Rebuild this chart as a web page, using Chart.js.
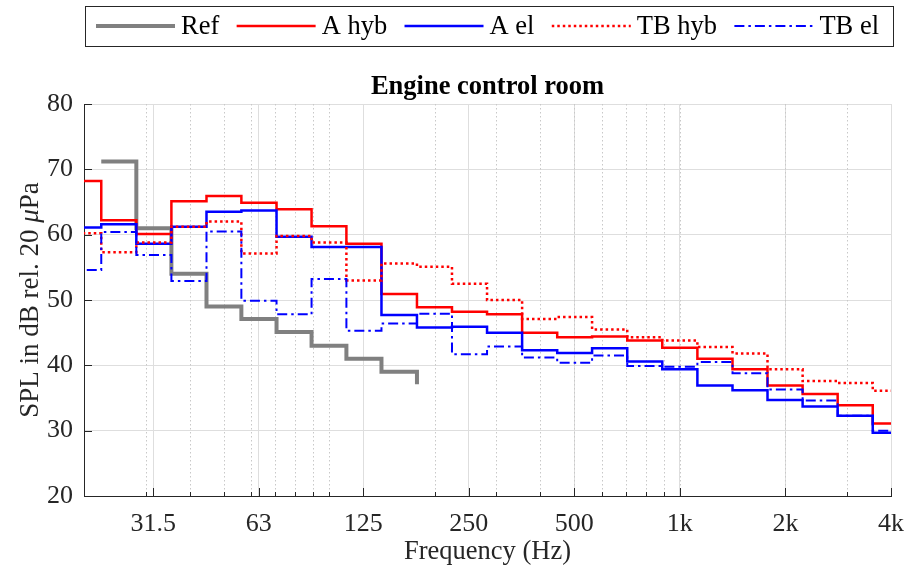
<!DOCTYPE html>
<html>
<head>
<meta charset="utf-8">
<script src="https://cdn.jsdelivr.net/npm/chart.js@4/dist/chart.umd.min.js"></script>
<style>
  html, body { margin: 0; padding: 0; background: #fff; }
  #wrap { width: 909px; height: 575px; position: relative; }
</style>
</head>
<body>
<div id="wrap"><canvas id="spl-chart"></canvas></div>
<script>
// ============================================================
// DATA - third-octave band levels, engine control room
// ============================================================

const bandCentres = [20, 25, 31.5, 40, 50, 63, 80, 100, 125, 160, 200, 250, 315, 400, 500, 630, 800, 1000, 1250, 1600, 2000, 2500, 3150, 4000];
// lower edge of each band, plus the upper edge of the last one
const bandEdges = [17.8, 22.4, 28.2, 35.5, 44.7, 56.2, 70.8, 89.1, 112, 141, 178, 224, 282, 355, 447, 562, 708, 891, 1122, 1413, 1778, 2239, 2818, 3548, 4467];

const refLevels = [null, 71.2, 61.0, 54.0, 49.0, 47.1, 45.1, 43.0, 41.0, 39.0, 37.1,
  null, null, null, null, null, null, null, null, null, null, null, null, null];
const aHybLevels = [68.2, 62.2, 60.1, 65.1, 65.9, 64.9, 63.9, 61.3, 58.6, 50.9, 48.9, 48.2,
  47.8, 45.0, 44.3, 44.4, 43.8, 42.7, 41.0, 39.4, 36.9, 35.6, 33.9, 31.1];
const aElLevels = [61.1, 61.6, 58.6, 61.2, 63.5, 63.7, 59.7, 58.1, 58.1, 47.7, 45.8, 45.9,
  45.0, 42.3, 41.9, 42.6, 40.6, 39.4, 36.9, 36.2, 34.7, 33.7, 32.3, 29.7];
const tbHybLevels = [60.2, 57.3, 58.8, 61.2, 62.0, 57.1, 59.8, 58.8, 53.0, 55.6, 55.1, 52.5,
  50.0, 47.1, 47.4, 45.5, 44.3, 43.8, 42.8, 41.8, 39.4, 37.6, 37.3, 36.1];
const tbElLevels = [54.6, 60.4, 56.9, 52.9, 60.5, 49.9, 47.8, 53.2, 45.3, 46.4, 47.9, 41.7,
  42.9, 41.2, 40.4, 41.5, 39.9, 39.8, 40.5, 38.8, 36.3, 34.6, 32.3, 30.0];

const xTickValues = [31.5, 63, 125, 250, 500, 1000, 2000, 4000];
const xTickLabels = ['31.5', '63', '125', '250', '500', '1k', '2k', '4k'];
const xMinorValues = [30, 40, 50, 60, 70, 80, 90, 100, 200, 300, 400, 500, 600, 700, 800, 900, 1000, 2000, 3000];
const yTickValues = [20, 30, 40, 50, 60, 70, 80];

// ============================================================
// HELPERS
// ============================================================

const SERIF = '"Liberation Serif", "Times New Roman", serif';
const TEXT = '#262626';

// band levels -> stair points at band edges
function toSteps(levels) {
  const pts = [];
  levels.forEach((v, i) => {
    if (v !== null) pts.push({ x: bandEdges[i], y: v });
  });
  const last = levels[levels.length - 1];
  if (last !== null) pts.push({ x: bandEdges[bandEdges.length - 1], y: last });
  return pts;
}

function stairs(label, levels, color, width, dash, order) {
  return {
    label,
    data: toSteps(levels),
    borderColor: color,
    backgroundColor: color,
    borderWidth: width,
    borderDash: dash,
    stepped: true,
    pointRadius: 0,
    fill: false,
    clip: 0,
    order
  };
}

// minor grid, inward ticks, title, boxed legend and y label with italic mu
const axesExtras = {
  id: 'axesExtras',
  beforeDatasetsDraw(chart) {
    const { ctx, chartArea: a, scales: { x } } = chart;
    ctx.save();
    ctx.strokeStyle = '#c8c8c8';
    ctx.lineWidth = 1;
    ctx.setLineDash([1.5, 2.5]);
    xMinorValues.forEach(f => {
      const px = Math.round(x.getPixelForValue(f)) + 0.5;
      ctx.beginPath();
      ctx.moveTo(px, a.top);
      ctx.lineTo(px, a.bottom);
      ctx.stroke();
    });
    ctx.restore();
  },
  afterDatasetsDraw(chart) {
    const { ctx, chartArea: a, scales: { x, y } } = chart;
    ctx.save();
    ctx.strokeStyle = TEXT;
    ctx.lineWidth = 1;
    xMinorValues.forEach(f => {
      const px = Math.round(x.getPixelForValue(f)) + 0.5;
      ctx.beginPath(); ctx.moveTo(px, a.bottom); ctx.lineTo(px, a.bottom - 4); ctx.stroke();
    });
    xTickValues.forEach(f => {
      const px = Math.round(x.getPixelForValue(f)) + 0.5;
      ctx.beginPath(); ctx.moveTo(px, a.bottom); ctx.lineTo(px, a.bottom - 8); ctx.stroke();
    });
    yTickValues.forEach(v => {
      const py = Math.round(y.getPixelForValue(v)) + 0.5;
      ctx.beginPath(); ctx.moveTo(a.left, py); ctx.lineTo(a.left + 8, py); ctx.stroke();
    });
    ctx.restore();
  },
  afterDraw(chart) {
    const { ctx, chartArea: a } = chart;
    ctx.save();

    // title over the plot area
    ctx.font = 'bold 26.5px ' + SERIF;
    ctx.fillStyle = '#000';
    ctx.textAlign = 'center';
    ctx.textBaseline = 'middle';
    ctx.fillText('Engine control room', (a.left + a.right) / 2, 87);

    // legend
    const box = { left: a.left + 1, top: 6, right: a.right + 2, bottom: 46 };
    ctx.fillStyle = '#fff';
    ctx.fillRect(box.left, box.top, box.right - box.left, box.bottom - box.top);
    ctx.strokeStyle = TEXT;
    ctx.lineWidth = 1;
    ctx.setLineDash([]);
    ctx.strokeRect(box.left + 0.5, box.top + 0.5, box.right - box.left, box.bottom - box.top);

    ctx.font = '26.5px ' + SERIF;
    const lineLen = 79, gap = 6;
    const items = chart.data.datasets.map(ds => ({ ds, w: ctx.measureText(ds.label).width }));
    const used = items.reduce((s, it) => s + lineLen + gap + it.w, 0);
    const startX = box.left + 11;
    const spacing = (box.right - 14 - startX - used) / (items.length - 1);
    const midY = (box.top + box.bottom) / 2;
    let cx = startX;
    items.forEach(({ ds, w }) => {
      ctx.strokeStyle = ds.borderColor;
      ctx.lineWidth = ds.borderWidth;
      ctx.setLineDash(ds.borderDash || []);
      ctx.beginPath();
      ctx.moveTo(cx, midY);
      ctx.lineTo(cx + lineLen, midY);
      ctx.stroke();
      ctx.setLineDash([]);
      ctx.fillStyle = '#000';
      ctx.textAlign = 'left';
      ctx.textBaseline = 'middle';
      ctx.fillText(ds.label, cx + lineLen + gap, midY + 1);
      cx += lineLen + gap + w + spacing;
    });

    // y axis label
    const parts = [
      { t: 'SPL in dB rel. 20 ', f: '27px ' + SERIF },
      { t: '\u03bc', f: 'italic 27px ' + SERIF },
      { t: 'Pa', f: '27px ' + SERIF }
    ];
    let total = 0;
    parts.forEach(p => { ctx.font = p.f; p.w = ctx.measureText(p.t).width; total += p.w; });
    ctx.translate(31, (a.top + a.bottom) / 2);
    ctx.rotate(-Math.PI / 2);
    ctx.fillStyle = TEXT;
    ctx.textAlign = 'left';
    ctx.textBaseline = 'middle';
    let px = -total / 2;
    parts.forEach(p => { ctx.font = p.f; ctx.fillText(p.t, px, 0); px += p.w; });
    ctx.restore();
  }
};

// ============================================================
// CHART
// ============================================================

const tickFont = { family: SERIF, size: 26 };

new Chart(document.getElementById('spl-chart'), {
  type: 'line',
  data: {
    datasets: [
      stairs('Ref', refLevels, '#808080', 4, [], 5),
      stairs('A hyb', aHybLevels, '#ff0000', 2.5, [], 4),
      stairs('A el', aElLevels, '#0000ff', 2.5, [], 3),
      stairs('TB hyb', tbHybLevels, '#ff0000', 2.5, [2.5, 3], 2),
      stairs('TB el', tbElLevels, '#0000ff', 2, [10, 4, 2.5, 4], 1)
    ]
  },
  options: {
    responsive: true,
    maintainAspectRatio: false,
    animation: false,
    devicePixelRatio: 1,
    layout: { padding: { top: 104, right: 18, bottom: 0, left: 0 } },
    plugins: {
      legend: { display: false },
      tooltip: { enabled: false },
      title: { display: false }
    },
    scales: {
      x: {
        type: 'logarithmic',
        min: 20,
        max: 4000,
        afterBuildTicks: s => { s.ticks = xTickValues.map(v => ({ value: v })); },
        afterFit: s => { s.height = 79; s.paddingLeft = 0; s.paddingRight = 0; },
        ticks: {
          autoSkip: false,
          maxRotation: 0,
          padding: 13,
          color: TEXT,
          font: tickFont,
          callback: (v, i) => xTickLabels[i]
        },
        grid: { color: '#dedede', drawTicks: false },
        border: { color: TEXT, width: 1 },
        title: {
          display: true,
          text: 'Frequency (Hz)',
          color: TEXT,
          font: { family: SERIF, size: 26.5 },
          padding: { top: 0, bottom: 7 }
        }
      },
      y: {
        min: 20,
        max: 80,
        afterFit: s => { s.width = 84; s.paddingTop = 0; s.paddingBottom = 0; },
        ticks: { stepSize: 10, padding: 11, color: TEXT, font: tickFont },
        grid: { color: '#dedede', drawTicks: false },
        border: { color: TEXT, width: 1 }
      }
    }
  },
  plugins: [axesExtras]
});
</script>
</body>
</html>
